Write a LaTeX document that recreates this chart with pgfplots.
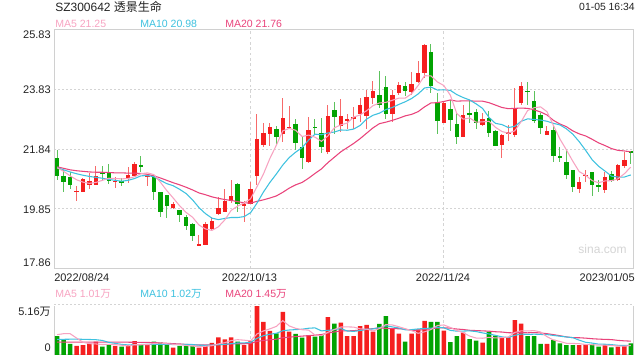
\documentclass[border=0pt]{standalone}
\usepackage{pgfplots}
\pgfplotsset{compat=1.18}
\usepackage{pgfplotstable}
\usepackage{fontspec}
\setmainfont{Liberation Sans}
\newfontfamily\cjk{Noto Sans CJK SC}
\definecolor{upred}{HTML}{F51F1F}
\definecolor{dngreen}{HTML}{02A302}
\definecolor{upwick}{HTML}{F76A6A}
\definecolor{dnwick}{HTML}{5CC25C}
\definecolor{maA}{HTML}{F7A3C1}
\definecolor{maB}{HTML}{3EC1DF}
\definecolor{maC}{HTML}{E9437B}
\definecolor{gridcol}{HTML}{D4D4D4}
\definecolor{bordercol}{HTML}{D0D0D0}
\definecolor{txt}{HTML}{222222}

\pgfplotstableread{
i o h l c v
3 20.43 20.62 20.10 20.46 0.93
4 20.42 20.87 20.40 20.85 1.03
5 20.66 21.03 20.51 20.77 1.20
6 20.66 21.29 20.66 20.93 1.38
9 20.75 20.90 20.55 20.78 0.93
11 20.88 21.25 20.71 20.99 1.03
12 20.96 21.40 20.93 21.34 1.44
14 20.93 21.00 20.62 20.96 1.03
18 19.87 20.09 19.83 20.02 0.76
22 18.64 18.99 18.62 18.67 0.76
23 18.63 19.41 18.63 19.33 0.93
24 19.19 19.57 19.13 19.44 1.24
25 19.68 20.24 19.63 19.88 1.82
26 19.74 20.51 19.74 20.10 1.62
27 20.10 20.82 20.05 20.27 1.82
29 19.97 20.12 19.41 20.00 1.03
30 20.02 20.73 20.00 20.51 1.44
31 20.95 23.00 20.65 22.17 5.16
32 21.97 22.70 21.90 22.37 3.41
33 22.34 22.72 21.95 22.58 2.48
35 22.34 23.53 22.08 22.89 4.44
36 22.56 23.28 22.50 22.59 2.41
39 21.40 22.90 21.38 22.47 2.03
42 21.73 23.30 21.68 22.96 3.92
44 22.62 23.50 22.40 22.95 3.34
45 22.81 23.00 22.50 22.84 1.96
46 22.88 23.26 22.50 22.91 1.96
47 23.00 23.56 22.76 23.31 2.99
48 22.96 23.80 22.50 23.59 3.10
49 23.55 24.12 23.35 23.78 2.41
52 23.02 23.81 22.73 23.65 2.75
53 23.72 24.07 23.63 23.97 2.20
55 23.75 24.42 23.63 24.01 2.20
56 24.08 24.78 24.04 24.38 2.65
57 24.38 25.33 24.20 25.30 3.51
60 22.72 23.40 22.70 23.38 2.51
63 22.26 23.30 22.23 22.97 2.30
66 22.64 23.06 22.61 22.83 1.27
69 21.97 22.34 21.56 22.30 1.79
70 22.34 22.64 22.12 22.41 1.82
71 22.30 23.89 22.26 23.22 3.61
72 23.39 24.07 23.30 23.94 3.23
76 22.30 22.61 22.30 22.45 1.14
81 20.51 20.90 20.38 20.73 1.03
82 20.96 21.16 20.73 20.99 1.10
85 20.49 21.07 20.38 20.90 1.03
87 20.82 21.34 20.79 21.31 0.86
88 21.29 21.73 21.20 21.49 1.03
}\uptab

\pgfplotstableread{
i o h l c v
0 21.56 21.81 20.80 20.96 1.96
1 20.93 21.14 20.42 20.76 1.55
2 20.90 21.09 20.51 20.66 1.14
7 21.05 21.29 20.79 21.02 0.86
8 21.03 21.34 20.69 20.79 1.03
10 20.79 20.87 20.62 20.72 0.86
13 21.32 21.62 21.07 21.26 1.03
15 20.95 21.01 20.13 20.40 1.38
16 20.40 20.40 19.57 19.74 1.31
17 20.31 20.32 19.55 19.94 1.03
19 19.82 19.82 19.41 19.66 0.93
20 19.57 19.65 19.16 19.28 0.93
21 19.35 19.39 18.77 18.94 0.93
28 20.68 20.70 19.75 20.02 1.38
34 22.50 22.62 21.97 22.23 2.24
37 22.67 22.86 21.82 22.06 2.17
38 21.90 22.23 21.18 21.53 1.79
40 22.59 22.84 22.34 22.54 1.89
41 22.39 22.88 21.70 21.90 2.06
43 23.14 23.42 22.36 22.90 3.23
50 23.63 24.45 23.20 23.30 3.20
51 23.91 24.28 22.83 23.02 4.02
54 23.96 24.08 23.60 23.78 1.38
58 25.09 25.33 23.70 23.95 3.41
59 23.40 23.72 22.35 22.78 3.41
61 23.17 23.47 22.45 22.80 1.34
62 22.67 23.08 22.01 22.26 1.96
64 23.06 23.47 22.70 22.97 1.65
65 23.09 23.19 22.50 22.72 1.48
67 22.87 23.11 22.26 22.37 2.41
68 22.45 22.47 21.93 21.95 2.00
73 23.79 24.08 23.30 23.76 1.96
74 23.44 23.77 22.70 22.78 1.96
75 22.97 23.03 22.36 22.53 1.14
77 22.47 22.61 21.42 21.62 1.55
78 21.62 21.90 21.40 21.53 1.20
79 21.42 21.86 20.85 20.99 1.03
80 21.14 21.15 20.42 20.59 1.03
83 21.07 21.08 20.29 20.66 1.10
84 20.64 20.81 20.40 20.61 0.86
86 21.01 21.12 20.73 20.79 0.79
89 21.77 21.79 21.34 21.70 1.20
}\dntab

\pgfplotstableread{
i ma5 ma10 ma20 vma5 vma10 vma20
0 21.22 21.22 21.25 2.10 1.62 1.32
1 21.10 21.15 21.20 2.20 1.62 1.32
2 20.95 21.08 21.15 2.20 1.63 1.33
3 20.82 21.02 21.12 1.75 1.63 1.33
4 20.74 20.97 21.10 1.32 1.62 1.33
5 20.70 20.93 21.08 1.17 1.60 1.33
6 20.73 20.90 21.07 1.14 1.58 1.32
7 20.80 20.87 21.07 1.08 1.50 1.32
8 20.87 20.83 21.06 1.10 1.30 1.32
9 20.86 20.80 21.05 1.08 1.20 1.32
10 20.85 20.77 21.05 1.01 1.09 1.32
11 20.86 20.80 21.04 0.94 1.04 1.32
12 20.92 20.86 21.04 1.06 1.07 1.31
13 21.02 20.95 21.03 1.06 1.08 1.30
14 21.05 20.96 21.00 1.08 1.08 1.29
15 20.99 20.92 20.95 1.18 1.10 1.28
16 20.74 20.80 20.88 1.24 1.09 1.25
17 20.46 20.69 20.80 1.16 1.11 1.21
18 20.21 20.62 20.72 1.10 1.08 1.17
19 19.95 20.50 20.65 1.08 1.08 1.14
20 19.73 20.36 20.57 0.99 1.09 1.09
21 19.57 20.15 20.48 0.92 1.08 1.06
22 19.31 19.89 20.38 0.86 1.01 1.04
23 19.18 19.69 20.32 0.90 1.00 1.04
24 19.13 19.54 20.25 0.96 1.02 1.05
25 19.25 19.49 20.20 1.14 1.06 1.08
26 19.48 19.53 20.16 1.27 1.10 1.09
27 19.80 19.56 20.13 1.49 1.17 1.14
28 19.94 19.56 20.09 1.58 1.24 1.16
29 20.05 19.59 20.05 1.53 1.25 1.16
30 20.18 19.72 20.04 1.46 1.30 1.19
31 20.59 20.04 20.10 2.17 1.72 1.40
32 21.01 20.41 20.15 2.48 1.99 1.50
33 21.53 20.73 20.21 2.70 2.14 1.57
34 21.97 21.01 20.28 2.95 2.24 1.63
35 22.45 21.31 20.40 3.55 2.50 1.78
36 22.53 21.56 20.54 3.00 2.58 1.84
37 22.47 21.74 20.65 2.75 2.62 1.90
38 22.26 21.89 20.73 2.61 2.66 1.95
39 22.31 22.14 20.87 2.57 2.76 2.00
40 22.24 22.34 21.03 2.06 2.80 2.05
41 22.10 22.32 21.18 1.99 2.49 2.11
42 22.28 22.38 21.39 2.34 2.54 2.26
43 22.55 22.41 21.57 2.63 2.62 2.38
44 22.65 22.48 21.75 2.89 2.73 2.48
45 22.71 22.47 21.89 2.90 2.48 2.49
46 22.91 22.51 22.03 2.88 2.44 2.51
47 22.98 22.63 22.19 2.70 2.52 2.57
48 23.12 22.84 22.37 2.67 2.65 2.65
49 23.29 22.97 22.55 2.48 2.69 2.72
50 23.38 23.04 22.69 2.73 2.82 2.81
51 23.40 23.16 22.74 3.14 3.01 2.75
52 23.47 23.23 22.80 3.10 2.90 2.72
53 23.54 23.33 22.87 2.92 2.79 2.71
54 23.54 23.42 22.95 2.71 2.60 2.66
55 23.69 23.53 23.00 2.51 2.62 2.55
56 23.96 23.68 23.09 2.24 2.69 2.56
57 24.29 23.88 23.25 2.39 2.74 2.63
58 24.28 23.91 23.38 2.63 2.77 2.71
59 24.08 23.81 23.39 3.04 2.87 2.78
60 23.96 23.82 23.43 3.10 2.80 2.81
61 23.64 23.80 23.48 2.84 2.54 2.77
62 23.03 23.66 23.44 2.53 2.46 2.68
63 22.84 23.56 23.45 2.30 2.47 2.63
64 22.88 23.48 23.45 1.95 2.49 2.55
65 22.74 23.35 23.44 1.75 2.42 2.52
66 22.75 23.20 23.44 1.73 2.28 2.49
67 22.77 22.90 23.39 1.82 2.17 2.46
68 22.57 22.70 23.31 1.76 2.03 2.40
69 22.43 22.66 23.23 1.79 1.87 2.37
70 22.37 22.56 23.19 1.86 1.80 2.30
71 22.45 22.60 23.20 2.33 2.03 2.28
72 22.76 22.77 23.21 2.49 2.16 2.31
73 23.13 22.85 23.20 2.48 2.12 2.29
74 23.22 22.83 23.15 2.52 2.15 2.32
75 23.25 22.81 23.08 2.38 2.12 2.27
76 23.09 22.77 22.98 1.89 2.11 2.20
77 22.63 22.70 22.80 1.55 2.02 2.10
78 22.18 22.65 22.68 1.40 1.94 1.99
79 21.82 22.52 22.59 1.21 1.86 1.87
80 21.44 22.34 22.45 1.19 1.79 1.79
81 21.09 22.09 22.35 1.17 1.53 1.78
82 20.97 21.80 22.28 1.08 1.31 1.74
83 20.79 21.49 22.17 1.06 1.23 1.68
84 20.72 21.27 22.05 1.02 1.12 1.64
85 20.78 21.11 21.96 1.02 1.11 1.61
86 20.79 20.94 21.86 0.98 1.07 1.59
87 20.85 20.91 21.80 0.93 1.00 1.51
88 21.02 20.91 21.78 0.91 0.99 1.46
89 21.24 20.98 21.75 0.98 1.00 1.43
}\matab

\pgfplotsset{
  panel/.style={
    scale only axis, width=435pt,
    xmin=-0.5, xmax=89.5,
    axis line style={draw=bordercol, line width=0.75pt},
    major tick length=0pt,
    xtick={30,60}, xticklabels={,,},
    xmajorgrids,
    major x grid style={gridcol, line width=0.75pt, dash pattern=on 2pt off 2pt},
    major y grid style={gridcol, line width=0.75pt, dash pattern=on 1.5pt off 1.5pt},
  },
  wick/.style={draw=none, mark=none, error bars/.cd, y dir=both, y explicit, error mark=none,
     error bar style={line width=0.75pt, draw=#1, solid}},
  body/.style={draw=none, mark=none, error bars/.cd, y dir=both, y explicit, error mark=none,
     error bar style={line width=3.4pt, draw=#1, solid}},
}

\begin{document}
\begin{tikzpicture}
\path[use as bounding box] (0,0) rectangle (480pt,270pt);

\begin{axis}[panel, at={(40.5pt,247.875pt)}, anchor=north west, height=179.25pt,
  ymin=17.86, ymax=25.83, ytick={19.85,21.84,23.83}, yticklabels={,,,}, ymajorgrids]
\addplot[wick=upwick] table[x=i, y expr={(\thisrow{h}+\thisrow{l})/2}, y error expr={(\thisrow{h}-\thisrow{l})/2}] {\uptab};
\addplot[wick=dnwick] table[x=i, y expr={(\thisrow{h}+\thisrow{l})/2}, y error expr={(\thisrow{h}-\thisrow{l})/2}] {\dntab};
\addplot[body=upred] table[x=i, y expr={(\thisrow{o}+\thisrow{c})/2}, y error expr={abs(\thisrow{c}-\thisrow{o})/2}] {\uptab};
\addplot[body=dngreen] table[x=i, y expr={(\thisrow{o}+\thisrow{c})/2}, y error expr={abs(\thisrow{c}-\thisrow{o})/2}] {\dntab};
\addplot[maC, line width=0.8pt, mark=none] table[x=i, y=ma20] {\matab};
\addplot[maB, line width=0.8pt, mark=none] table[x=i, y=ma10] {\matab};
\addplot[maA, line width=0.8pt, mark=none] table[x=i, y=ma5] {\matab};
\end{axis}

\begin{axis}[panel, at={(40.5pt,41.25pt)}, anchor=north west, height=37.5pt,
  ymin=0, ymax=5.16, ytick=\empty,
  after end axis/.code={
    \draw[white, line width=1.2pt] (rel axis cs:0,1) -- (rel axis cs:1,1);
    \draw[gridcol, line width=0.75pt, dash pattern=on 1.5pt off 1.5pt] (rel axis cs:0,1) -- (rel axis cs:1,1);
  }]
\addplot[ybar, bar width=3.4pt, bar shift=0pt, fill=upred, draw=none] table[x=i, y=v] {\uptab};
\addplot[ybar, bar width=3.4pt, bar shift=0pt, fill=dngreen, draw=none] table[x=i, y=v] {\dntab};
\addplot[maC, line width=0.8pt, mark=none] table[x=i, y=vma20] {\matab};
\addplot[maB, line width=0.8pt, mark=none] table[x=i, y=vma10] {\matab};
\addplot[maA, line width=0.8pt, mark=none] table[x=i, y=vma5] {\matab};
\end{axis}

\begin{scope}[x=0.75pt, y=0.75pt, every node/.style={inner sep=0pt}]
\node[anchor=west, text=txt, font=\fontsize{9}{10}\selectfont] at (55,353) {SZ300642 {\cjk 透景生命}};
\node[anchor=east, text=txt, font=\fontsize{7.8}{9}\selectfont] at (635,353) {01-05 16:34};
\node[anchor=west, text=maA, font=\fontsize{7.9}{9}\selectfont] at (55,336) {MA5 21.25};
\node[anchor=west, text=maB, font=\fontsize{7.9}{9}\selectfont] at (140,336) {MA10 20.98};
\node[anchor=west, text=maC, font=\fontsize{7.9}{9}\selectfont] at (225,336) {MA20 21.76};
\foreach \yy/\lab in {325/25.83, 270.5/23.83, 210.5/21.84, 150.5/19.85, 97/17.86}
  \node[anchor=east, text=txt, font=\fontsize{8.25}{9}\selectfont] at (51,\yy) {\lab};
\node[anchor=west, text=txt, font=\fontsize{8.25}{9}\selectfont] at (54,82) {2022/08/24};
\node[anchor=center, text=txt, font=\fontsize{8.25}{9}\selectfont] at (249.5,82) {2022/10/13};
\node[anchor=center, text=txt, font=\fontsize{8.25}{9}\selectfont] at (443,82) {2022/11/24};
\node[anchor=east, text=txt, font=\fontsize{8.25}{9}\selectfont] at (635,82) {2023/01/05};
\node[anchor=west, text=maA, font=\fontsize{7.9}{9}\selectfont] at (55,66) {MA5 1.01{\cjk 万}};
\node[anchor=west, text=maB, font=\fontsize{7.9}{9}\selectfont] at (140,66) {MA10 1.02{\cjk 万}};
\node[anchor=west, text=maC, font=\fontsize{7.9}{9}\selectfont] at (225,66) {MA20 1.45{\cjk 万}};
\node[anchor=east, text=txt, font=\fontsize{8.25}{9}\selectfont] at (51,48) {5.16{\cjk 万}};
\node[anchor=east, text=txt, font=\fontsize{8.25}{9}\selectfont] at (51,12) {0};
\node[anchor=center, text=gridcol, font=\fontsize{9}{10}\selectfont] at (602.5,111) {sina.com};
\end{scope}
\end{tikzpicture}
\end{document}
